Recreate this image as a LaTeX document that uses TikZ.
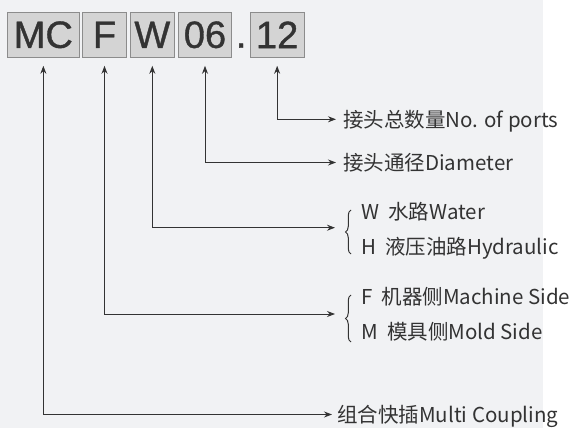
\documentclass[tikz,border=0pt]{standalone}
\usepackage{fontspec}
\setmainfont{Noto Sans CJK SC}
\newfontfamily\boxfont[FakeBold=1]{Liberation Sans}
\usetikzlibrary{arrows.meta,decorations.pathreplacing}
\definecolor{bg}{HTML}{F1F2F4}
\definecolor{ink}{HTML}{333333}
\definecolor{boxfill}{HTML}{D4D4D4}
\definecolor{boxline}{HTML}{8C8C8C}
\begin{document}
\begin{tikzpicture}[x=1pt,y=-1pt,
  codebox/.style={draw=boxline,fill=boxfill,line width=1pt,minimum height=45pt,inner sep=0pt,
    font=\boxfont\fontsize{38}{38}\selectfont,text=ink},
  lbl/.style={anchor=west,inner xsep=0pt,inner ysep=0pt,text height=15.6pt,text depth=0pt,
    font=\fontsize{20.5}{24}\selectfont,text=ink},
  conn/.style={draw=ink,line width=1pt,
    {Stealth[length=8pt,width=6pt]}-{Stealth[length=8pt,width=6pt]},shorten <=8pt},
  bracepath/.style={draw=ink,line width=1pt,decorate,decoration={brace,amplitude=5.5pt}}]
\useasboundingbox (0,0) rectangle (574,428);
\fill[bg] (0,0) rectangle (543,428);

% code boxes
\node[codebox,minimum width=71.3pt] (mc) at (43.35,34.8) {MC};
\node[codebox,minimum width=44.4pt] (f) at (104.5,34.8) {F};
\node[codebox,minimum width=44pt] (w) at (152.3,34.8) {W};
\node[codebox,minimum width=53.4pt] (d) at (205,34.8) {06};
\node[font=\boxfont\fontsize{38}{38}\selectfont,text=ink,anchor=base,inner sep=0pt] (dot) at (241.2,47.7) {.};
\node[codebox,minimum width=53.7pt] (p) at (277.15,34.8) {12};

% labels
\node[lbl] (ports) at (343,119.3) {接头总数量No. of ports};
\node[lbl] (diam) at (343,162.5) {接头通径Diameter};
\node[lbl] (water) at (361,211.5) {W\hspace{0.45em}水路Water};
\node[lbl] (hyd) at (361,246.5) {H\hspace{0.45em}液压油路Hydraulic};
\node[lbl] (mach) at (361,297) {F\hspace{0.45em}机器侧Machine Side};
\node[lbl] (mold) at (361,331.5) {M\hspace{0.45em}模具侧Mold Side};
\node[lbl] (multi) at (337,414.5) {组合快插Multi Coupling};

% braces
\coordinate (whtip) at (335,227.7);
\coordinate (fmtip) at (335,314);
\draw[bracepath] (351,254) -- (351,210);
\draw[bracepath] (351,342) -- (351,295);

% connectors
\draw[conn,shorten >=7pt] (p.south) |- (ports.west);
\draw[conn,shorten >=7pt] (d.south) |- (diam.west);
\draw[conn] (w.south) |- (whtip);
\draw[conn] (f.south) |- (fmtip);
\draw[conn,shorten >=5pt] (mc.south) |- (multi.west);
\end{tikzpicture}
\end{document}
